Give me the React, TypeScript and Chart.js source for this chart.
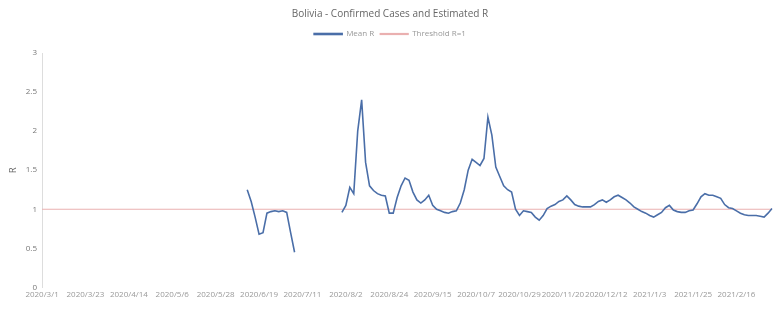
import React, { useEffect, useRef } from "react";
import { Chart, registerables } from "chart.js";

Chart.register(...registerables);

const startDate = "2020-03-01";
const dayStep = 2;
const pointCount = 186;

// Estimated R values (null = not estimated)
const firstWave: (number | null)[] = [
  1.25, 1.1, 0.9, 0.68, 0.7, 0.95, 0.97, 0.98, 0.97, 0.98, 0.96, 0.7, 0.45,
];
const firstWaveStart = 52;

const secondWave: number[] = [
  0.96, 1.05, 1.28, 1.2, 2.0, 2.4, 1.6, 1.3, 1.24, 1.2,
  1.18, 1.17, 0.95, 0.95, 1.15, 1.3, 1.4, 1.37, 1.22, 1.12,
  1.08, 1.12, 1.18, 1.05, 1.0, 0.98, 0.96, 0.95, 0.97, 0.98,
  1.08, 1.25, 1.5, 1.64, 1.6, 1.56, 1.65, 2.18, 1.95, 1.54,
  1.42, 1.3, 1.25, 1.22, 1.0, 0.92, 0.98, 0.97, 0.96, 0.9,
  0.86, 0.92, 1.01, 1.04, 1.06, 1.1, 1.12, 1.17, 1.12, 1.06,
  1.04, 1.03, 1.03, 1.03, 1.06, 1.1, 1.12, 1.09, 1.12, 1.16,
  1.18, 1.15, 1.12, 1.08, 1.03, 1.0, 0.97, 0.95, 0.92, 0.9,
  0.93, 0.96, 1.02, 1.05, 0.99, 0.97, 0.96, 0.96, 0.98, 0.99,
  1.07, 1.16, 1.2, 1.18, 1.18, 1.16, 1.14, 1.06, 1.02, 1.01,
  0.98, 0.95, 0.93, 0.92, 0.92, 0.92, 0.91, 0.9, 0.95, 1.01,
];
const secondWaveStart = 76;

const thresholdValue = 1;
const yTicks = [0, 0.5, 1, 1.5, 2, 2.5, 3];

function buildLabels(): string[] {
  const out: string[] = [];
  const d0 = new Date(startDate + "T00:00:00Z");
  for (let i = 0; i < pointCount; i++) {
    const d = new Date(d0.getTime() + i * dayStep * 86400000);
    out.push(`${d.getUTCFullYear()}/${d.getUTCMonth() + 1}/${d.getUTCDate()}`);
  }
  return out;
}

function buildSeries(): (number | null)[] {
  const out: (number | null)[] = new Array(pointCount).fill(null);
  firstWave.forEach((v, i) => (out[firstWaveStart + i] = v));
  secondWave.forEach((v, i) => (out[secondWaveStart + i] = v));
  return out;
}

const legendMargin = {
  id: "legendMargin",
  beforeInit(chart: any) {
    if (!chart.legend) return;
    const orig = chart.legend.fit;
    chart.legend.fit = function () {
      orig.bind(chart.legend)();
      this.height += 5;
    };
  },
};

export default function App() {
  const ref = useRef<HTMLCanvasElement | null>(null);
  useEffect(() => {
    if (!ref.current) return;
    const labels = buildLabels();
    const chart = new Chart(ref.current, {
      type: "line",
      data: {
        labels,
        datasets: [
          {
            label: "Mean R",
            data: buildSeries(),
            borderColor: "#4a6ea8",
            backgroundColor: "#4a6ea8",
            borderWidth: 1.6,
            pointRadius: 0,
            spanGaps: false,
            tension: 0,
          },
          {
            label: "Threshold R=1",
            data: labels.map(() => thresholdValue),
            borderColor: "#eab0b0",
            backgroundColor: "#eab0b0",
            borderWidth: 1.2,
            pointRadius: 0,
          },
        ],
      },
      plugins: [legendMargin],
      options: {
        animation: false,
        responsive: true,
        maintainAspectRatio: false,
        layout: { padding: { left: 0, right: 2, top: 0, bottom: 7 } },
        plugins: {
          title: {
            display: true,
            text: "Bolivia - Confirmed Cases and Estimated R",
            color: "#666",
            font: { family: "Open Sans", size: 10, weight: "normal" },
            padding: { top: 0, bottom: 4 },
          },
          legend: {
            display: true,
            labels: {
              boxWidth: 28,
              boxHeight: 1,
              color: "#999",
              font: { family: "Open Sans", size: 8 },
              padding: 6,
            },
          },
          tooltip: { enabled: false },
        },
        scales: {
          x: {
            grid: { display: false, drawTicks: false },
            border: { display: false },
            afterFit: (s: any) => {
              s.paddingLeft = 0;
              s.paddingRight = 0;
            },
            ticks: {
              color: "#999",
              font: { family: "Open Sans", size: 8 },
              maxRotation: 0,
              minRotation: 0,
              autoSkip: true,
              autoSkipPadding: 2,
              padding: 3,
            },
          },
          y: {
            min: 0,
            max: 3,
            afterBuildTicks: (axis: any) => {
              axis.ticks = yTicks.map((v) => ({ value: v }));
            },
            grid: { display: false, drawTicks: false },
            border: { display: true, color: "#ddd" },
            title: {
              display: true,
              text: "R",
              color: "#666",
              font: { family: "Open Sans", size: 9 },
              padding: { top: 0, bottom: 2 },
            },
            ticks: {
              color: "#777",
              font: { family: "Open Sans", size: 8 },
              padding: 5,
              callback: (v: any) => `${Number(v)}`,
            },
          },
        },
      },
    });
    return () => chart.destroy();
  }, []);
  return (
    <div style={{ height: 302, width: "100%" }}>
      <canvas ref={ref} />
    </div>
  );
}
